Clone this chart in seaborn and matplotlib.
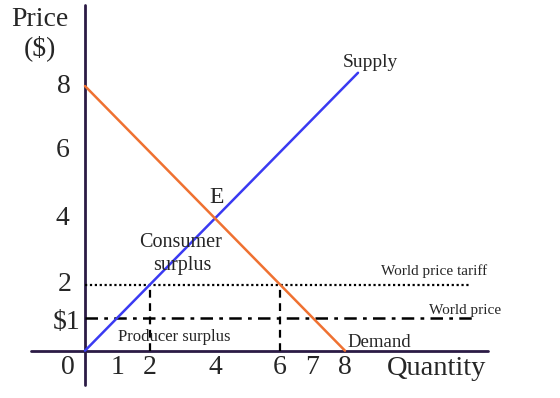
import matplotlib
matplotlib.use("Agg")
import matplotlib.pyplot as plt
import seaborn as sns
import numpy as np
import pandas as pd

sns.set_theme(style="white")
plt.rcParams['font.family'] = ['Liberation Serif', 'DejaVu Serif']

# data
quantity = [0, 8.4]
supply_price = [0, 8.4]
demand_q = [0, 8]
demand_p = [8, 0]
world_price = 1
tariff_price = 2
tariff_q = [2, 6]
x_ticks = [1, 2, 4, 6, 7, 8]
x_tick_labels = ["1", "2", "4", "6", "7", "8"]
y_ticks = [1, 2, 4, 6, 8]
y_tick_labels = ["$1", "2", "4", "6", "8"]

supply_df = pd.DataFrame({"q": quantity, "p": supply_price})
demand_df = pd.DataFrame({"q": demand_q, "p": demand_p})

fig = plt.figure(figsize=(5.6, 3.98), dpi=100)
ax = fig.add_axes([0, 0, 1, 1])
ax.set_xlim(-2.615, 14.615)
ax.set_ylim(-1.43, 10.6)

axis_color = "#2b1b45"
ax.plot([-1.66, 12.4], [0, 0], color=axis_color, lw=2, zorder=1)
ax.plot([0, 0], [-1.04, 10.45], color=axis_color, lw=2, zorder=1)

sns.lineplot(data=supply_df, x="q", y="p", ax=ax, color="#3a3af2", lw=1.8, zorder=3)
sns.lineplot(data=demand_df, x="q", y="p", ax=ax, color="#ef7131", lw=1.8, zorder=3)

ax.plot([0, 11.85], [tariff_price, tariff_price], color="black", lw=1.6,
        linestyle=(0, (1, 1.2)), zorder=2)
ax.plot([0, 11.9], [world_price, world_price], color="black", lw=1.8,
        linestyle=(0, (5, 2.5, 1.5, 2.5)), zorder=2)
for q in tariff_q:
    ax.plot([q, q], [0, tariff_price], color="black", lw=1.6,
            linestyle=(0, (3.5, 2.5)), zorder=2)

for s in ax.spines.values():
    s.set_visible(False)
ax.set_xticks([])
ax.set_yticks([])
ax.set_xlabel("")
ax.set_ylabel("")

FS = 20
# tick labels
for xv, lab in zip(x_ticks, x_tick_labels):
    ax.text(xv, -0.52, lab, ha="center", va="center", fontsize=FS)
ax.text(-0.52, -0.52, "0", ha="center", va="center", fontsize=FS)
y_label_pos = {"$1": (-0.57, 0.84), "2": (-0.62, 2.0), "4": (-0.69, 4.0),
               "6": (-0.69, 6.05), "8": (-0.66, 8.0)}
for yv, lab in zip(y_ticks, y_tick_labels):
    px, py = y_label_pos[lab]
    ax.text(px, py, lab, ha="center", va="center", fontsize=FS)

ax.text(-1.4, 10.0, "Price", ha="center", va="center", fontsize=FS)
ax.text(-1.4, 9.15, "($)", ha="center", va="center", fontsize=FS)
ax.text(10.83, -0.55, "Quantity", ha="center", va="center", fontsize=20.5)

ax.text(8.77, 8.72, "Supply", ha="center", va="center", fontsize=14)
ax.text(4.06, 4.64, "E", ha="center", va="center", fontsize=17)
ax.text(2.95, 3.28, "Consumer", ha="center", va="center", fontsize=14.5)
ax.text(3.0, 2.59, "surplus", ha="center", va="center", fontsize=14.5)
ax.text(2.74, 0.41, "Producer surplus", ha="center", va="center", fontsize=12)
ax.text(9.05, 0.26, "Demand", ha="center", va="center", fontsize=13.5)
ax.text(10.74, 2.41, "World price tariff", ha="center", va="center", fontsize=11)
ax.text(11.69, 1.2, "World price", ha="center", va="center", fontsize=11)

fig.savefig("out.png", dpi=100)
